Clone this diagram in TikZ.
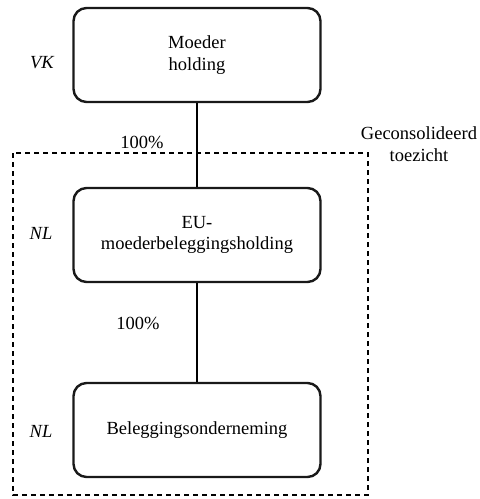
\documentclass[tikz,border=0pt]{standalone}
\usepackage{fontspec}
\setmainfont{Liberation Serif}
\usepackage{tikz}
\usetikzlibrary{positioning}

\begin{document}
\begin{tikzpicture}[x=1pt,y=-1pt,
    font=\rmfamily\fontsize{18.5}{21.5}\selectfont,
    entity/.style={draw=black!90,line width=2.4pt,rounded corners=13pt,fill=white,
        minimum width=247pt,minimum height=94pt,align=center,inner sep=2pt},
    land/.style={font=\rmfamily\fontsize{18.5}{21.5}\selectfont\itshape},
    share/.style={line width=2.4pt}]
    \useasboundingbox (0,0) rectangle (480,499);
    % consolidated supervision
    \draw[line width=1.6pt,dash pattern=on 5pt off 4pt] (13,153) rectangle (368,495);
    \node[align=center] (toezicht) at (419,144) {Geconsolideerd\\toezicht};
    % entities
    \node[entity] (moeder) at (197,55) {Moeder\\holding};
    \node[entity] (eu) at (197,235) {EU-\\moederbeleggingsholding};
    \node[entity] (onderneming) at (197,430) {Beleggingsonderneming};
    \node[land] (vk) at (42,63) {VK};
    \node[land] (nl1) at (41,233) {NL};
    \node[land] (nl2) at (41,431) {NL};
    % ownership
    \draw[share] (moeder.south) -- (eu.north);
    \draw[share] (eu.south) -- (onderneming.north);
    \node (pct1) at (142,142) {100\%};
    \node (pct2) at (138,323) {100\%};
\end{tikzpicture}
\end{document}
